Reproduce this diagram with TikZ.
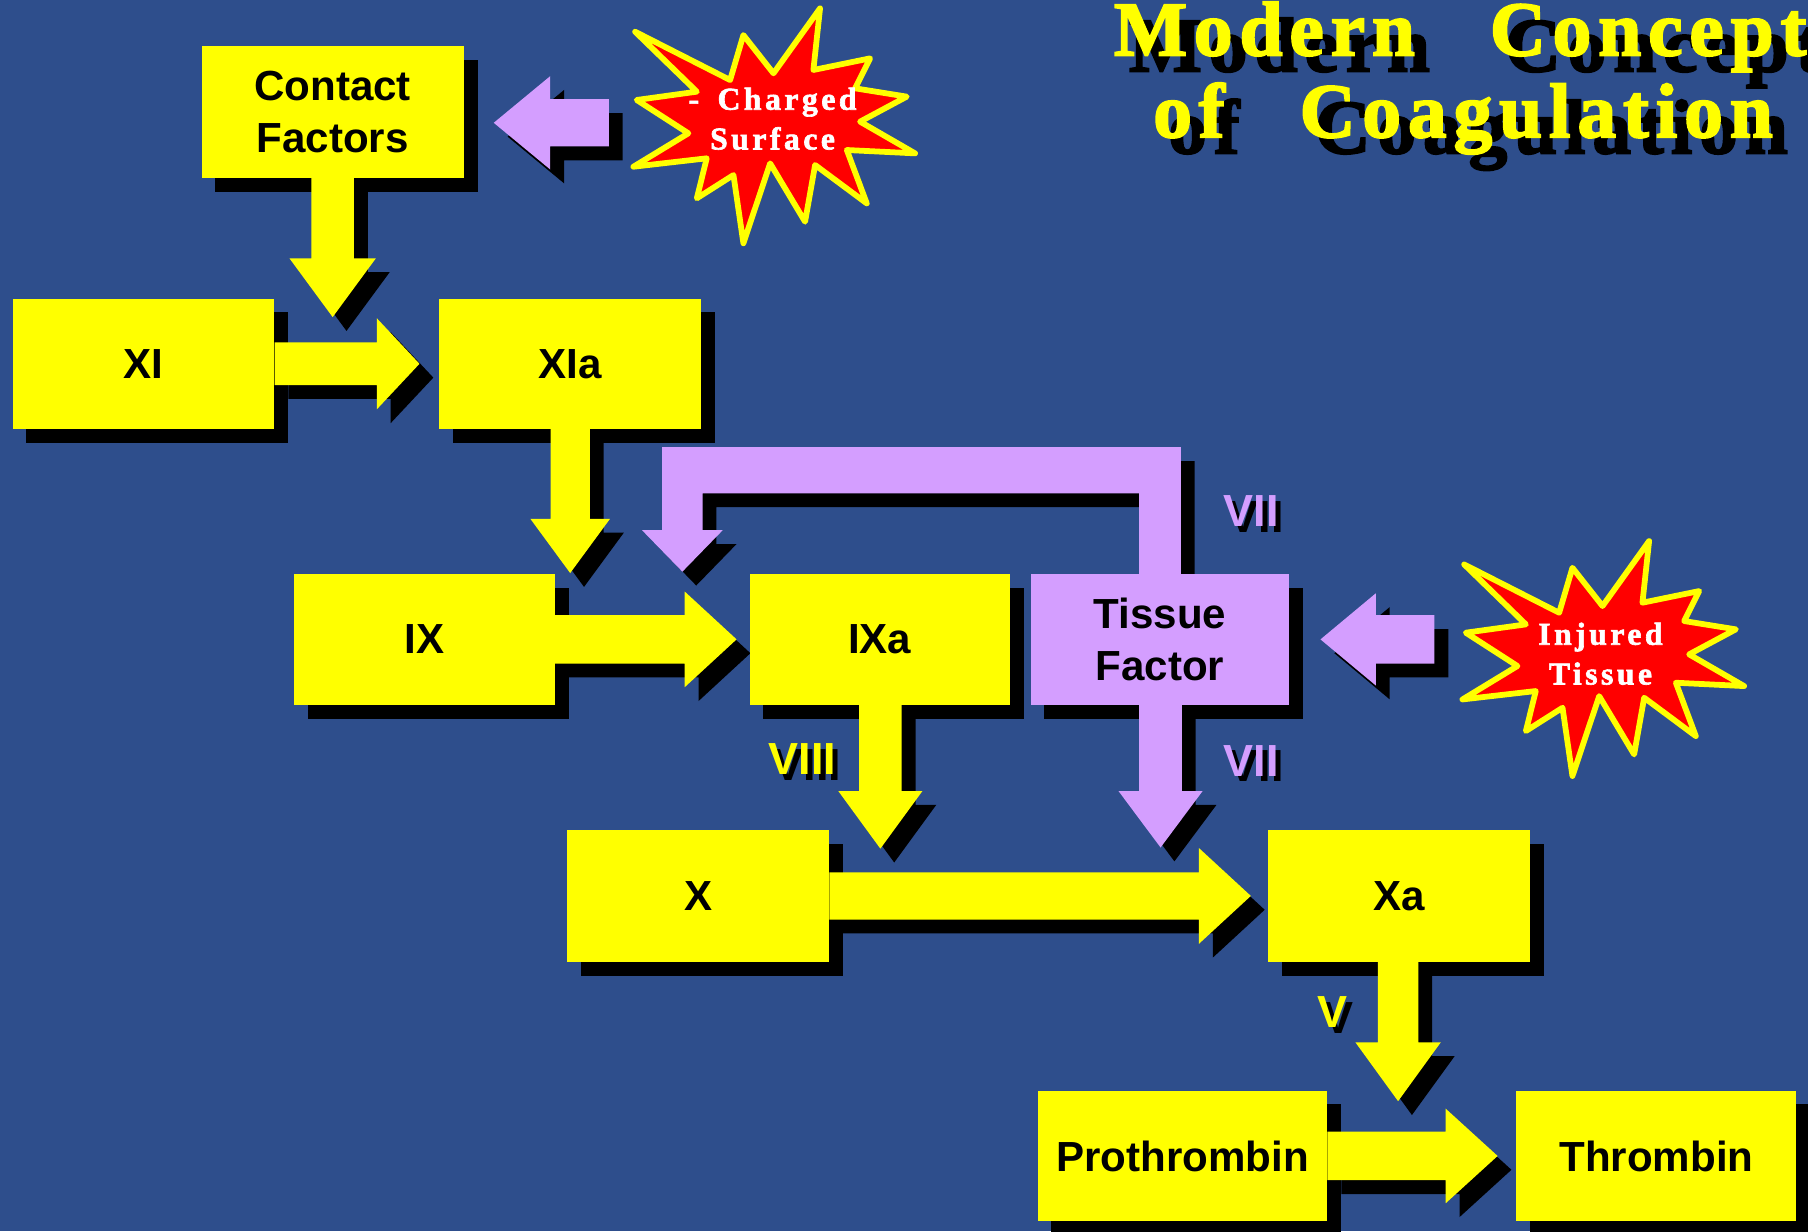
\documentclass[tikz,border=0pt]{standalone}
\usepackage{fontspec}
\setmainfont{Liberation Serif}
\newfontfamily\boxfont{Liberation Sans}
\newfontfamily\titlefont[LetterSpace=9,FakeBold=2.5]{Liberation Serif}
\newfontfamily\starfont[LetterSpace=11,FakeBold=2]{Liberation Serif}
\usetikzlibrary{calc}
\definecolor{bgblue}{RGB}{46,78,140}
\definecolor{cyel}{RGB}{255,255,0}
\definecolor{clil}{RGB}{212,158,255}
\definecolor{cred}{RGB}{255,0,0}
\pgfdeclarelayer{bg}
\pgfdeclarelayer{shadow}
\pgfsetlayers{bg,shadow,main}

\newcommand\RArrow[6]{\fill[#1] let \p1=(#2), \p2=(#3) in (\x1,\y2+#4pt) -- (\x2-#6pt,\y2+#4pt) -- (\x2-#6pt,\y2+#5pt) -- (\x2,\y2) -- (\x2-#6pt,\y2-#5pt) -- (\x2-#6pt,\y2-#4pt) -- (\x1,\y2-#4pt) -- cycle;}
\newcommand\LArrow[6]{\fill[#1] let \p1=(#2), \p2=(#3) in (\x1,\y2+#4pt) -- (\x2+#6pt,\y2+#4pt) -- (\x2+#6pt,\y2+#5pt) -- (\x2,\y2) -- (\x2+#6pt,\y2-#5pt) -- (\x2+#6pt,\y2-#4pt) -- (\x1,\y2-#4pt) -- cycle;}
\newcommand\DArrow[6]{\fill[#1] let \p1=(#2), \p2=(#3) in (\x2-#4pt,\y1) -- (\x2-#4pt,\y2+#6pt) -- (\x2-#5pt,\y2+#6pt) -- (\x2,\y2) -- (\x2+#5pt,\y2+#6pt) -- (\x2+#4pt,\y2+#6pt) -- (\x2+#4pt,\y1) -- cycle;}

\newcommand\drawarrows[2]{%
 \DArrow{#1}{cf.south}{j1}{18.5}{37.5}{51}
 \RArrow{#1}{fxi.east}{t2}{18.5}{39.5}{37}
 \DArrow{#1}{fxia.south}{j2}{17}{34.5}{47}
 \RArrow{#1}{fix.east}{t4}{21}{41.5}{45}
 \DArrow{#1}{fixa.south}{j3}{18.5}{36.5}{50}
 \DArrow{#2}{tf.south}{j4}{18.5}{36.5}{49}
 \RArrow{#1}{fx.east}{t7}{20.5}{41.5}{45}
 \DArrow{#1}{fxa.south}{j5}{17.5}{37}{51}
 \RArrow{#1}{proth.east}{t9}{21}{41}{45}
 \LArrow{#2}{s10}{t10}{20.5}{40.5}{49}
 \LArrow{#2}{s11}{t11}{21}{40}{48}
 \fill[#2] let \p1=(tf.north), \p2=(t12) in (\x1+18pt,\y1) -- (\x1+18pt,\y1+110pt) -- (\x2-17.5pt,\y1+110pt) -- (\x2-17.5pt,\y2+36pt) -- (\x2-35pt,\y2+36pt) -- (\x2,\y2) -- (\x2+35pt,\y2+36pt) -- (\x2+17.5pt,\y2+36pt) -- (\x2+17.5pt,\y1+70pt) -- (\x1-18pt,\y1+70pt) -- (\x1-18pt,\y1) -- cycle;
}

\newcommand\burstpath{(711.2,7.2) -- (705.4,60.7) -- (754.6,50.6) -- (741.6,76.6) -- (786.4,83.8) -- (745.9,105.5) -- (793.6,133.0) -- (734.4,130.1) -- (751.7,176.4) -- (706.9,143.1) -- (698.2,192.3) -- (667.9,141.7) -- (644.7,211.0) -- (636.1,151.8) -- (604.3,172.0) -- (612.9,137.3) -- (549.3,144.6) -- (597.0,115.6) -- (552.2,86.7) -- (604.3,79.5) -- (550.8,27.5) -- (633.2,69.4) -- (644.7,30.4) -- (670.8,63.6) -- cycle}

\begin{document}
\begin{tikzpicture}[x=1pt,y=-1pt,
  box/.style={fill=cyel, minimum width=227pt, minimum height=113pt, inner sep=0pt,
    font=\boxfont\bfseries\fontsize{36.5}{45}\selectfont, align=center, text=black},
  lilbox/.style={box, fill=clil},
  lbl/.style={font=\boxfont\bfseries\fontsize{39}{39}\selectfont, inner sep=0pt, anchor=base},
  ttl/.style={font=\titlefont\bfseries\fontsize{67}{70}\selectfont, inner sep=0pt, anchor=base west},
  burst/.style={fill=cred, draw=cyel, line width=5pt, line join=round},
  bursttext/.style={font=\starfont\bfseries\fontsize{27.5}{34.5}\selectfont, text=white, align=center, inner sep=0pt}]
\useasboundingbox (0,0) rectangle (1568,1068);
\begin{pgfonlayer}{bg}
  \fill[bgblue] (0,0) rectangle (1568,1068);
\end{pgfonlayer}
\begin{scope}
\clip (0,0) rectangle (1568,1068);
% boxes
\node[box, minimum height=114pt] (cf) at (288.5,97) {Contact\\Factors};
\node[box] (fxi) at (124.5,315.5) {XI};
\node[box] (fxia) at (494.5,315.5) {XIa};
\node[box, minimum width=226pt] (fix) at (368,554.5) {IX};
\node[box, minimum width=226pt] (fixa) at (763,554.5) {IXa};
\node[lilbox, minimum width=224pt] (tf) at (1006,554.5) {Tissue\\Factor};
\node[box, minimum height=114pt] (fx) at (605.5,777) {X};
\node[box, minimum height=114pt] (fxa) at (1213.5,777) {Xa};
\node[box, minimum width=251pt] (proth) at (1025.5,1002.5) {Prothrombin};
\node[box, minimum width=243pt] (thr) at (1436.5,1002.5) {Thrombin};
% connector end points
\coordinate (j1) at (288.5,275);
\coordinate (j2) at (494.5,497);
\coordinate (j3) at (763.5,736);
\coordinate (j4) at (1006.5,735);
\coordinate (j5) at (1212.5,955);
\coordinate (t2) at ([xshift=-17pt]fxia.west);
\coordinate (t4) at ([xshift=-11pt]fixa.west);
\coordinate (t7) at ([xshift=-15pt]fxa.west);
\coordinate (t9) at ([xshift=-16pt]thr.west);
\coordinate (t10) at ([xshift=26pt,yshift=-9.5pt]cf.east);
\coordinate (s10) at (528,106.5);
\coordinate (t11) at ([xshift=27pt]tf.east);
\coordinate (s11) at (1244,554.5);
\coordinate (t12) at ([xshift=-58pt,yshift=2pt]fixa.north west);
% arrows
\drawarrows{cyel}{clil}
% starbursts
\fill[burst] \burstpath;
\begin{scope}[shift={(719,462)}]
  \fill[burst] \burstpath;
\end{scope}
\node[bursttext] (cs) at (670,103) {-\hspace{16pt}Charged\\Surface};
\node[bursttext] (it) at (1388,567) {Injured\\Tissue};
% labels
\node[lbl, text=clil] (l1) at (1085,457) {VII};
\node[lbl, text=clil] (l2) at (1085,673) {VII};
\node[lbl, text=cyel] (l3) at (696,672) {VIII};
\node[lbl, text=cyel] (l4) at (1156,891) {V};
% title
\node[ttl, text=cyel] (tt1) at (966,48) {Modern};
\node[ttl, text=cyel] (tt2) at (1292,48) {Concept};
\node[ttl, text=cyel] (tt3) at (1000,119) {of};
\node[ttl, text=cyel] (tt4) at (1127,119) {Coagulation};
\end{scope}
% shadows
\begin{pgfonlayer}{shadow}
\begin{scope}
\clip (0,0) rectangle (1568,1068);
\begin{scope}[transform canvas={shift={(12pt,-12pt)}}]
  \foreach \n in {cf,fxi,fxia,fix,fixa,tf,fx,fxa,proth,thr}
    \fill[black] (\n.south west) rectangle (\n.north east);
  \drawarrows{black}{black}
\end{scope}
\begin{scope}[transform canvas={shift={(4.5pt,-5pt)}}]
  \node[lbl, text=black] (l1s) at (1085,457) {VII};
  \node[lbl, text=black] (l2s) at (1085,673) {VII};
  \node[lbl, text=black] (l3s) at (696,672) {VIII};
  \node[lbl, text=black] (l4s) at (1156,891) {V};
\end{scope}
\begin{scope}[transform canvas={shift={(13pt,-14pt)}}]
  \node[ttl, text=black] (tt1s) at (966,48) {Modern};
  \node[ttl, text=black] (tt2s) at (1292,48) {Concept};
  \node[ttl, text=black] (tt3s) at (1000,119) {of};
  \node[ttl, text=black] (tt4s) at (1127,119) {Coagulation};
\end{scope}
\end{scope}
\end{pgfonlayer}
\end{tikzpicture}
\end{document}
